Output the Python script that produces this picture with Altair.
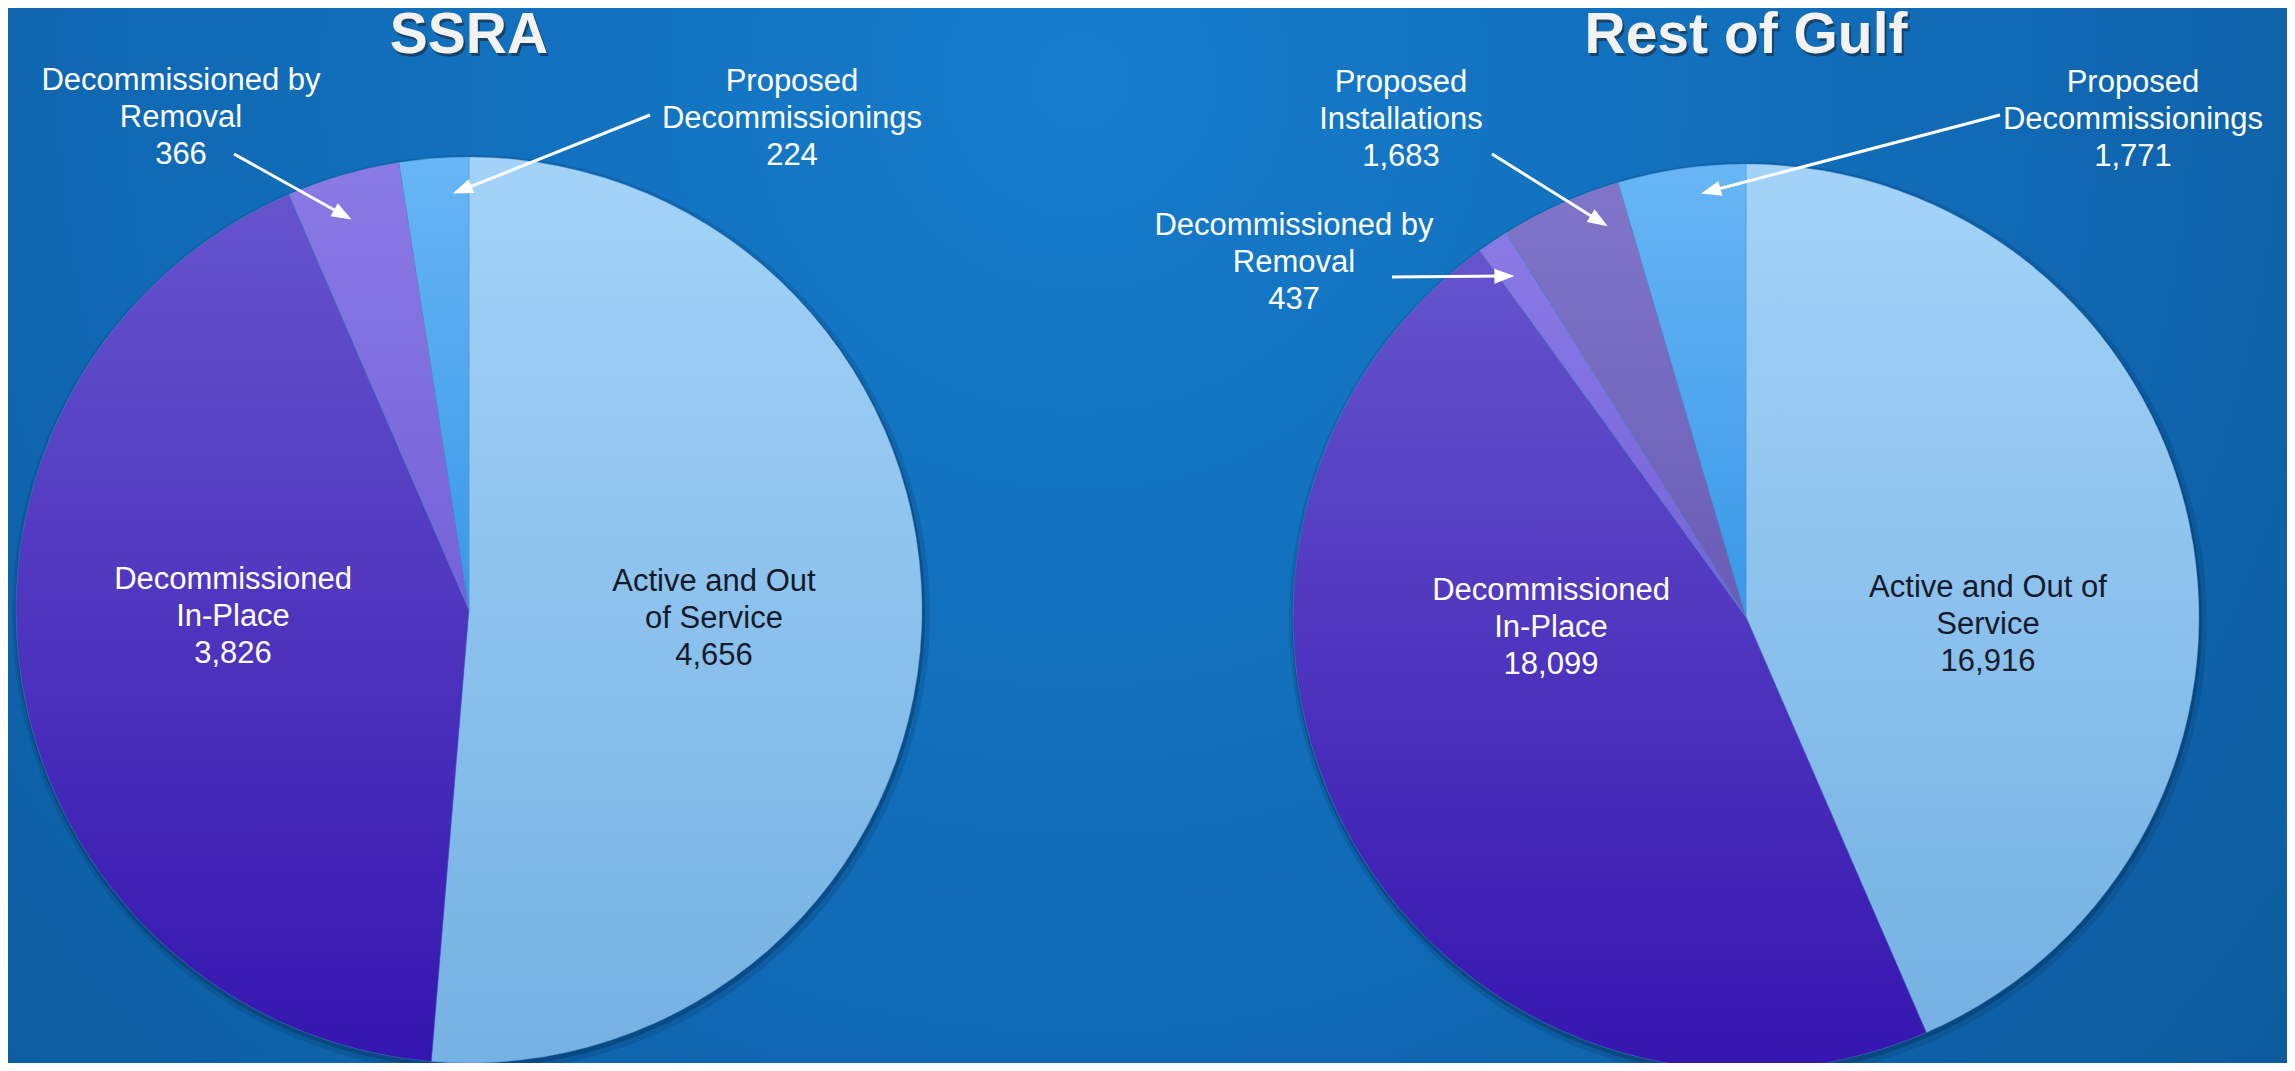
import math
import altair as alt
import pandas as pd

# ---------------- data ----------------
pies = ["SSRA", "Rest of Gulf"]
categories = [
    "Active and Out of Service",
    "Decommissioned In-Place",
    "Decommissioned by Removal",
    "Proposed Installations",
    "Proposed Decommissionings",
]
ssra_values = [4656, 3826, 366, 0, 224]
gulf_values = [16916, 18099, 437, 1683, 1771]
ssra_label_lines = [
    ["Active and Out", "of Service"],
    ["Decommissioned", "In-Place"],
    ["Decommissioned by", "Removal"],
    ["Proposed", "Installations"],
    ["Proposed", "Decommissionings"],
]
gulf_label_lines = [
    ["Active and Out of", "Service"],
    ["Decommissioned", "In-Place"],
    ["Decommissioned by", "Removal"],
    ["Proposed", "Installations"],
    ["Proposed", "Decommissionings"],
]

# ---------------- layout / style ----------------
W, H = 2279, 1055
R = 453
FONT = "Liberation Sans"
CENTER = {"SSRA": (461, 602), "Rest of Gulf": (1738, 609)}
TITLE_BASELINE = 45
LABEL_ANCHOR = {  # centre x, first-line baseline y
    ("SSRA", "Active and Out of Service"): (706, 583),
    ("SSRA", "Decommissioned In-Place"): (225, 581),
    ("SSRA", "Decommissioned by Removal"): (173, 82),
    ("SSRA", "Proposed Decommissionings"): (784, 83),
    ("Rest of Gulf", "Active and Out of Service"): (1980, 589),
    ("Rest of Gulf", "Decommissioned In-Place"): (1543, 592),
    ("Rest of Gulf", "Decommissioned by Removal"): (1286, 227),
    ("Rest of Gulf", "Proposed Installations"): (1393, 84),
    ("Rest of Gulf", "Proposed Decommissionings"): (2125, 84),
}
# arrow tail (x, y); tip = (position within slice 0..1, fraction of radius)
ARROW_TAIL = {
    ("SSRA", "Decommissioned by Removal"): (226, 146),
    ("SSRA", "Proposed Decommissionings"): (642, 107),
    ("Rest of Gulf", "Proposed Installations"): (1484, 146),
    ("Rest of Gulf", "Proposed Decommissionings"): (1992, 107),
    ("Rest of Gulf", "Decommissioned by Removal"): (1384, 269),
}
ARROW_TIP = {
    ("SSRA", "Decommissioned by Removal"): (0.46, 0.90),
    ("SSRA", "Proposed Decommissionings"): (0.75, 0.92),
    ("Rest of Gulf", "Proposed Installations"): (0.80, 0.915),
    ("Rest of Gulf", "Proposed Decommissionings"): (0.63, 0.94),
    ("Rest of Gulf", "Decommissioned by Removal"): (0.45, 0.91),
}
HEAD_HALF = 10


def vgrad(c0, c1):
    return alt.Gradient(
        gradient="linear",
        stops=[alt.GradientStop(color=c0, offset=0), alt.GradientStop(color=c1, offset=1)],
        x1=0, y1=0, x2=0, y2=1,
    )


FILLS = {
    "Active and Out of Service": vgrad("#a3d3f8", "#75b1e2"),
    "Decommissioned In-Place": vgrad("#6654cd", "#3515af"),
    "Decommissioned by Removal": vgrad("#8a7ae5", "#7562d9"),
    "Proposed Installations": vgrad("#8076c9", "#6a5cb6"),
    "Proposed Decommissionings": vgrad("#68b6f5", "#3998e8"),
}
DARK_TEXT = {"Active and Out of Service"}

# ---------------- tables ----------------
rows = []
for pie, vals, lines in [("SSRA", ssra_values, ssra_label_lines),
                         ("Rest of Gulf", gulf_values, gulf_label_lines)]:
    total = float(sum(vals))
    acc = 0.0
    cx, cy = CENTER[pie]
    for cat, v, ln in zip(categories, vals, lines):
        if v <= 0:
            continue
        t0 = acc / total
        acc += v
        t1 = acc / total
        lx, ly = LABEL_ANCHOR[(pie, cat)]
        rows.append(dict(pie=pie, category=cat, value=v, t0=t0, t1=t1,
                         cx=cx, cy=cy, lx=lx, ly=ly,
                         label="\n".join(ln + [f"{v:,}"]),
                         dark=cat in DARK_TEXT))
df = pd.DataFrame(rows)

arrows = []
for (pie, cat), (tx, ty) in ARROW_TAIL.items():
    r = df[(df.pie == pie) & (df.category == cat)].iloc[0]
    f, rf = ARROW_TIP[(pie, cat)]
    ang = 2 * math.pi * (r["t0"] + f * (r["t1"] - r["t0"]))
    px = r["cx"] + rf * R * math.sin(ang)
    py = r["cy"] - rf * R * math.cos(ang)
    dx, dy = px - tx, py - ty
    L = math.hypot(dx, dy)
    ux, uy = dx / L, dy / L
    hx, hy = px - HEAD_HALF * ux, py - HEAD_HALF * uy
    arrows.append(dict(x=tx, y=ty, x2=hx, y2=hy,
                       hang=(math.degrees(math.atan2(ux, -uy)) + 360) % 360))
adf = pd.DataFrame(arrows)

pie_df = pd.DataFrame({
    "pie": pies,
    "cx": [CENTER[p][0] for p in pies],
    "cy": [CENTER[p][1] for p in pies],
    "ty": [TITLE_BASELINE for _ in pies],
})

xs = alt.Scale(domain=[0, W], range=[0, W], nice=False, zero=False)
ys = alt.Scale(domain=[0, H], range=[0, H], nice=False, zero=False)
ts = alt.Scale(domain=[0, 1], range=[0, 2 * math.pi])

X = lambda f: alt.X(f, scale=xs, axis=None)
Y = lambda f: alt.Y(f, scale=ys, axis=None)

bg = alt.Chart(alt.Data(values=[{"a": 1}])).mark_rect(
    color=alt.Gradient(
        gradient="radial",
        stops=[alt.GradientStop(color="#157ccc", offset=0),
               alt.GradientStop(color="#1069b4", offset=0.55),
               alt.GradientStop(color="#0c5898", offset=1)],
        x1=0.47, y1=0.3, x2=0.47, y2=0.3, r1=0, r2=0.75,
    )
).encode(x=alt.value(0), x2=alt.value(W), y=alt.value(0), y2=alt.value(H))

shadow1 = alt.Chart(pie_df).mark_arc(
    radius=R + 6, theta=0, theta2=2 * math.pi, color="#03274a", opacity=0.16,
    xOffset=2, yOffset=4,
).encode(x=X("cx:Q"), y=Y("cy:Q"))
shadow2 = alt.Chart(pie_df).mark_arc(
    radius=R + 2, theta=0, theta2=2 * math.pi, color="#052f58", opacity=0.38,
    xOffset=1, yOffset=3,
).encode(x=X("cx:Q"), y=Y("cy:Q"))

slice_layers = []
for cat in categories:
    sub = df[df.category == cat]
    if sub.empty:
        continue
    slice_layers.append(
        alt.Chart(sub).mark_arc(
            radius=R, color=FILLS[cat], stroke="#4f8fcf", strokeWidth=0.7,
            strokeOpacity=0.6,
        ).encode(
            x=X("cx:Q"), y=Y("cy:Q"),
            theta=alt.Theta("t0:Q", scale=ts), theta2="t1:Q",
            tooltip=["pie:N", "category:N", "value:Q"],
        )
    )

text_common = dict(align="center", baseline="alphabetic", lineBreak="\n",
                   lineHeight=37, fontSize=31, font=FONT)
labels_light = alt.Chart(df[~df.dark]).mark_text(color="#ffffff", **text_common).encode(
    x=X("lx:Q"), y=Y("ly:Q"), text="label:N")
labels_dark = alt.Chart(df[df.dark]).mark_text(color="#151a2a", **text_common).encode(
    x=X("lx:Q"), y=Y("ly:Q"), text="label:N")

arrow_lines = alt.Chart(adf).mark_rule(color="white", strokeWidth=3).encode(
    x=X("x:Q"), y=Y("y:Q"), x2="x2:Q", y2="y2:Q")
arrow_heads = alt.Chart(adf).mark_point(
    shape="M0,-1L0.75,1L-0.75,1Z", filled=True, color="white", opacity=1,
    size=(2 * HEAD_HALF) ** 2, strokeWidth=0,
).encode(x=X("x2:Q"), y=Y("y2:Q"), angle=alt.Angle("hang:Q", scale=None))

title_common = dict(align="center", baseline="alphabetic", fontSize=57,
                    fontWeight="bold", font=FONT)
title_shadow = alt.Chart(pie_df).mark_text(
    color="#1b2633", opacity=0.6, dx=2, dy=3, **title_common
).encode(x=X("cx:Q"), y=Y("ty:Q"), text="pie:N")
titles = alt.Chart(pie_df).mark_text(color="#f3f3f3", **title_common).encode(
    x=X("cx:Q"), y=Y("ty:Q"), text="pie:N")

chart = alt.layer(
    bg, shadow1, shadow2, *slice_layers, labels_light, labels_dark,
    arrow_lines, arrow_heads, title_shadow, titles,
).properties(
    width=W, height=H, padding=0, autosize=alt.AutoSizeParams(type="none"),
    background="#0f64ac",
).configure_view(stroke=None)

chart.save("out.html", embed_options={"renderer": "svg", "actions": False})
